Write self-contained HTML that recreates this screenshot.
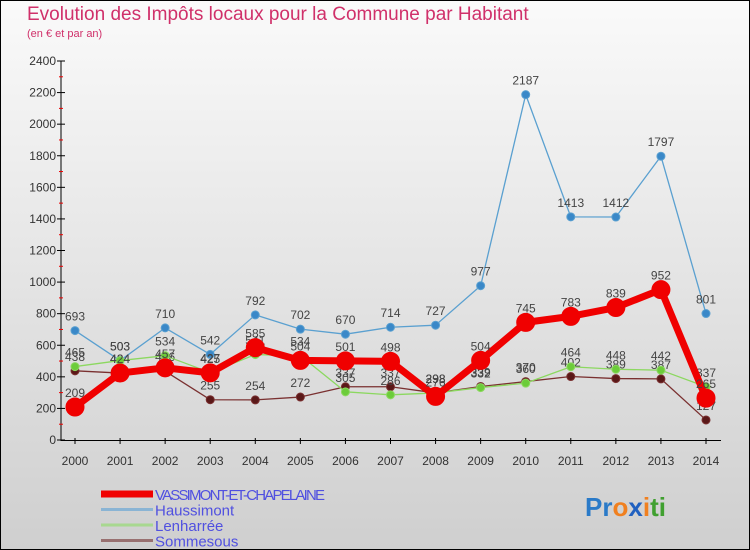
<!DOCTYPE html>
<html><head><meta charset="utf-8"><style>
html,body{margin:0;padding:0}
body{width:750px;height:550px;overflow:hidden;font-family:"Liberation Sans",sans-serif}
#wrap{position:relative;width:748px;height:548px;border:1px solid #000;background:linear-gradient(#fafafa,#cfcfcf)}
.t{position:absolute;color:#d0306a}
</style></head><body>
<div id="wrap">
<div class="t" style="left:26px;top:3px;font-size:19px">Evolution des Impôts locaux pour la Commune par Habitant</div>
<div class="t" style="left:26px;top:27px;font-size:11px">(en € et par an)</div>
<svg id="c" width="748" height="548" style="position:absolute;left:0;top:0"></svg>
</div>
<script>
const years=[2000,2001,2002,2003,2004,2005,2006,2007,2008,2009,2010,2011,2012,2013,2014];
const yTicks=[0,200,400,600,800,1000,1200,1400,1600,1800,2000,2200,2400];
const vassimont=[209,424,457,425,585,504,501,498,276,504,745,783,839,952,265];
const haussimont=[693,503,710,542,792,702,670,714,727,977,2187,1413,1412,1797,801];
const lenharree=[465,503,534,427,541,534,305,286,298,332,360,464,448,442,337];
const sommesous=[438,424,436,255,254,272,337,337,298,339,370,402,389,387,127];
const NS="http://www.w3.org/2000/svg";
const svg=document.getElementById('c');
const X=i=>74+i*(705-74)/14;
const Y=v=>439-v*(439-60)/2400;
function mk(t,a){const e=document.createElementNS(NS,t);for(const k in a)e.setAttribute(k,a[k]);svg.appendChild(e);return e;}
let ax=mk('line',{x1:60,y1:60,x2:60,y2:440,stroke:'#000'});

let bx=mk('line',{x1:60,y1:439.5,x2:720,y2:439.5,stroke:'#000'});

yTicks.forEach((v,i)=>{
 mk('line',{x1:56,x2:64,y1:Y(v),y2:Y(v),stroke:'#000'});
 if(i<yTicks.length-1)mk('line',{x1:58,x2:62,y1:Y(v+100),y2:Y(v+100),stroke:'#e00'});
 const t=mk('text',{x:55,y:Y(v)+4,'text-anchor':'end','font-size':12,fill:'#333'});t.textContent=v;
 
});
years.forEach((y,i)=>{
 mk('line',{x1:X(i),x2:X(i),y1:437,y2:443,stroke:'#000'});
 const t=mk('text',{x:X(i),y:464,'text-anchor':'middle','font-size':12,fill:'#333'});t.textContent=y;
 
});
function series(d,col,dot,w,r,name){
 const p=mk('polyline',{points:d.map((v,i)=>X(i)+','+Y(v)).join(' '),fill:'none',stroke:col,'stroke-width':w,'stroke-linejoin':'round'});
 
 d.forEach((v,i)=>{
  const c=mk('circle',{cx:X(i),cy:Y(v),r:r,fill:dot,stroke:col});
  
  const t=mk('text',{x:X(i),y:Y(v)-10,'text-anchor':'middle','font-size':12,fill:'#444'});t.textContent=v;
  
 });
}
series(haussimont,'#5aa0d0','#3a88c8',1.3,4,'haussimont');
series(sommesous,'#7a3030','#5a1818',1.3,4,'sommesous');
series(lenharree,'#8cd860','#6ccc3a',1.3,4,'lenharree');
series(vassimont,'#f00000','#f00000',7,9,'vassimont');
const leg=[['VASSIMONT-ET-CHAPELAINE','#f00000',7],['Haussimont','#8ab4d4',3],['Lenharrée','#a8d890',3],['Sommesous','#987070',3]];
leg.forEach((l,i)=>{
 const y=493+i*15.5;
 const ln=mk('line',{x1:100,x2:152,y1:y,y2:y,stroke:l[1],'stroke-width':l[2]});
 
 const t=mk('text',{x:154,y:y+6,'font-size':15,fill:'#5050e0','textLength':i==0?170:undefined});t.textContent=l[0];
 if(i!=0)t.removeAttribute('textLength');
 
});
const lg=mk('text',{x:584,y:515,'font-size':26,'font-weight':'bold',fill:'#2a7ac8'});

lg.innerHTML='<tspan fill="#2a7ac8">Pr</tspan><tspan fill="#f08020">o</tspan><tspan fill="#2060c0">x</tspan><tspan fill="#f08020">i</tspan><tspan fill="#40a030">ti</tspan>';
</script>
</body></html>
